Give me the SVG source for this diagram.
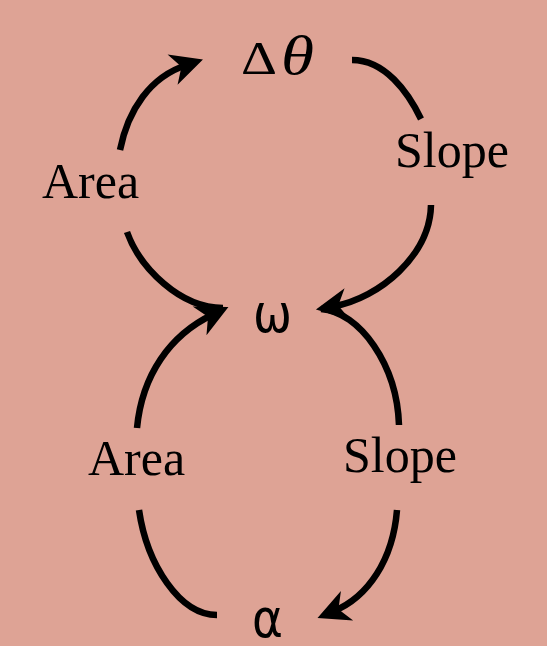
<svg xmlns="http://www.w3.org/2000/svg" width="547" height="646" viewBox="0 0 547 646">
  <style>
    .lbl { font-family: "Liberation Serif", serif; font-size: 50px; fill: #000; }
    .sym { font-family: "DejaVu Sans", sans-serif; font-size: 54px; fill: #000; }
    .edge { fill: none; stroke: #000; stroke-width: 6.5; }
  </style>
  <defs>
    <marker id="arr" markerUnits="userSpaceOnUse" markerWidth="40" markerHeight="40" viewBox="-15 -15 30 30" refX="0" refY="0" orient="auto" overflow="visible">
      <path d="M13,0 L-11,-12 L-4,0 L-11,12 Z" fill="#000"/>
    </marker>
  </defs>
  <rect width="547" height="646" fill="#dea395"/>
  <g id="connectors">
    <path class="edge" d="M127,232 C140,268 180,308 223,308"/>
    <path class="edge" d="M120,150 C128,110 150,77 186.5,65" marker-end="url(#arr)"/>
    <path class="edge" d="M352,60 C385,60 408,92 421,119"/>
    <path class="edge" d="M431,205 C430,255 380,298 333,306.5" marker-end="url(#arr)"/>
    <path class="edge" d="M137,428 C142,375 170,335 212.8,314.5" marker-end="url(#arr)"/>
    <path class="edge" d="M139,510 C147,565 180,615 217,615"/>
    <path class="edge" d="M321,309 C360,312 397,365 399,425"/>
    <path class="edge" d="M397,510 C393,560 368,597 333.5,611.3" marker-end="url(#arr)"/>
  </g>
  <g id="dtheta">
    <text x="241" y="74" font-family="Liberation Serif, serif" font-size="47" textLength="36" lengthAdjust="spacingAndGlyphs">Δ</text>
    <text x="281" y="74" font-family="Liberation Serif, serif" font-size="54" font-style="italic" textLength="33" lengthAdjust="spacingAndGlyphs">θ</text>
  </g>
  <g id="omega"><text class="sym" x="253" y="332" textLength="39" lengthAdjust="spacingAndGlyphs">ω</text></g>
  <g id="alpha"><text class="sym" x="252" y="637" textLength="31" lengthAdjust="spacingAndGlyphs">α</text></g>
  <g id="area1"><text class="lbl" x="42" y="198">Area</text></g>
  <g id="slope1"><text class="lbl" x="395" y="167">Slope</text></g>
  <g id="area2"><text class="lbl" x="88" y="475">Area</text></g>
  <g id="slope2"><text class="lbl" x="343" y="472">Slope</text></g>
</svg>
